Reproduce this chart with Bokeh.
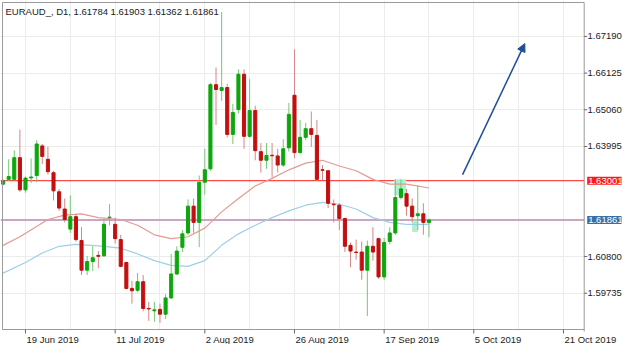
from bokeh.plotting import figure
from bokeh.models import Range1d, FixedTicker, PrintfTickFormatter, Label, Arrow, NormalHead, Span, ColumnDataSource
from bokeh.embed import file_html
from bokeh.resources import INLINE

# ---- data (bar index 0 = 19 Jun 2019, daily bars, last bar = 27 Sep 2019) ----
BAR = list(range(-4, 73))
OPEN = [1.62901, 1.63040, 1.63040, 1.63670, 1.62735, 1.63082, 1.63151, 1.64011, 1.63623, 1.63234,
        1.62679, 1.62179, 1.61596, 1.61957, 1.61263, 1.60403, 1.60653, 1.60833, 1.60819, 1.61930,
        1.61735, 1.61291, 1.60625, 1.59874, 1.59819, 1.60069, 1.59292, 1.59223, 1.59265, 1.59126,
        1.59598, 1.60292, 1.61069, 1.61485, 1.62263, 1.61791, 1.62957, 1.63345, 1.65788, 1.65622,
        1.65705, 1.64345, 1.65066, 1.66093, 1.64289, 1.65038, 1.63845, 1.63595, 1.63740, 1.63720,
        1.63456, 1.63956, 1.65483, 1.63817, 1.64261, 1.64511, 1.64317, 1.63317, 1.63290, 1.62318,
        1.62290, 1.61902, 1.61124, 1.60930, 1.60930, 1.60403, 1.61097, 1.61319, 1.60208, 1.61236,
        1.61485, 1.62512, 1.62623, 1.62263, 1.61985, 1.62040, 1.61784]
HIGH = [1.63040, 1.63623, 1.63881, 1.64483, 1.63123, 1.63651, 1.64178, 1.64067, 1.63984, 1.63290,
        1.62762, 1.62485, 1.62568, 1.62040, 1.61652, 1.60820, 1.61097, 1.60958, 1.61902, 1.62319,
        1.61930, 1.61430, 1.60653, 1.60097, 1.60319, 1.60264, 1.59486, 1.59486, 1.59431, 1.59709,
        1.60875, 1.61097, 1.61569, 1.62457, 1.62485, 1.63151, 1.63928, 1.65843, 1.66287, 1.67898,
        1.65816, 1.65233, 1.66232, 1.66232, 1.65955, 1.65177, 1.64095, 1.64095, 1.64095, 1.63928,
        1.64206, 1.65261, 1.66815, 1.64761, 1.64678, 1.65011, 1.64761, 1.63456, 1.63317, 1.62457,
        1.62346, 1.61930, 1.61208, 1.61291, 1.61235, 1.61263, 1.61652, 1.61347, 1.61347, 1.61652,
        1.63040, 1.63040, 1.62762, 1.62485, 1.62873, 1.62346, 1.61903]
LOW = [1.62870, 1.62998, 1.63012, 1.62679, 1.62651, 1.62929, 1.62957, 1.63484, 1.63179, 1.62429,
       1.62124, 1.61791, 1.61485, 1.61235, 1.60264, 1.60264, 1.60375, 1.60458, 1.60791, 1.61707,
       1.61180, 1.60486, 1.59846, 1.59430, 1.59763, 1.59209, 1.58931, 1.58904, 1.58876, 1.58987,
       1.59570, 1.60264, 1.60930, 1.61430, 1.61485, 1.61069, 1.62596, 1.63290, 1.64622, 1.65316,
       1.64261, 1.64067, 1.64955, 1.63928, 1.64261, 1.63595, 1.63234, 1.63345, 1.63095, 1.63234,
       1.63401, 1.63845, 1.63651, 1.63789, 1.64178, 1.63984, 1.62998, 1.63012, 1.62207, 1.61791,
       1.61569, 1.60930, 1.60486, 1.60708, 1.60125, 1.59070, 1.60680, 1.60153, 1.60125, 1.61152,
       1.61430, 1.62457, 1.61985, 1.61791, 1.61569, 1.61430, 1.61362]
CLOSE = [1.62998, 1.63123, 1.63670, 1.62735, 1.63076, 1.63109, 1.64067, 1.63706, 1.63262, 1.62707,
         1.62207, 1.61874, 1.61957, 1.61291, 1.60403, 1.60653, 1.60764, 1.60805, 1.61735, 1.61943,
         1.61319, 1.60514, 1.59874, 1.59805, 1.60069, 1.59292, 1.59278, 1.59251, 1.59126, 1.59598,
         1.60292, 1.60958, 1.61458, 1.62263, 1.61791, 1.62957, 1.63318, 1.65788, 1.65649, 1.65705,
         1.64345, 1.64983, 1.66093, 1.64289, 1.65038, 1.63873, 1.63595, 1.63734, 1.63725, 1.63456,
         1.63928, 1.64928, 1.63817, 1.64261, 1.64511, 1.64345, 1.63040, 1.63304, 1.62346, 1.62304,
         1.61902, 1.61097, 1.60958, 1.60916, 1.60403, 1.61097, 1.60930, 1.60208, 1.61208, 1.61485,
         1.62512, 1.62762, 1.62263, 1.61957, 1.62040, 1.61791, 1.61861]

MA_FAST_X = [-4, -1, 4, 7, 10, 13, 17, 20, 23, 26, 29, 32, 35, 38, 41, 44, 47, 50, 53, 56, 59, 62, 65, 68, 72]
MA_FAST = [1.61124, 1.61374, 1.61874, 1.62003, 1.62040, 1.61930, 1.61874, 1.61708, 1.61430, 1.61319,
           1.61374, 1.61624, 1.62096, 1.62485, 1.62846, 1.63068, 1.63317, 1.63512, 1.63595, 1.63429,
           1.63290, 1.63040, 1.62901, 1.62901, 1.62790]
MA_SLOW_X = [-4, 0, 3, 6, 9, 13, 17, 20, 23, 26, 29, 32, 35, 38, 41, 44, 47, 50, 53, 56, 59, 62, 65, 68, 72]
MA_SLOW = [1.60319, 1.60625, 1.60902, 1.61097, 1.61152, 1.61111, 1.61041, 1.60875, 1.60680, 1.60541,
           1.60514, 1.60680, 1.61124, 1.61458, 1.61708, 1.61930, 1.62124, 1.62290, 1.62374, 1.62318,
           1.62179, 1.61930, 1.61791, 1.61735, 1.61735]

PRICE_TICKS = [1.59735, 1.60800, 1.63995, 1.65060, 1.66125, 1.67190]
DATE_TICKS = [0, 16, 32, 48, 64, 80, 96]
DATE_LABELS = ["19 Jun 2019", "11 Jul 2019", "2 Aug 2019", "26 Aug 2019",
               "17 Sep 2019", "5 Oct 2019", "21 Oct 2019"]
GRID_X = [0, 8, 16, 24, 32, 40, 48, 56, 64, 72, 80, 88, 96]

RESIST = 1.63001
LAST = 1.61861
TITLE = "EURAUD_, D1, 1.61784 1.61903 1.61362 1.61861"
ARROW_FROM = (78.0, 1.63179)
ARROW_TO = (89.1, 1.66982)
HL_LEFT = [65.8, 69.0]
HL_RIGHT = [67.9, 70.0]
HL_TOP = [1.63040, 1.61846]
HL_BOTTOM = [1.62568, 1.61513]

# ---- styling / geometry ----
BULL, BEAR = "#0da60d", "#c20f0f"
BULL_W, BEAR_W = "#74c874", "#d78585"
GRID, BORDER = "#ececec", "#9a9a9a"
TXT = "#222222"
FONT = "Liberation Sans"
FS = "9.5px"

W, H = 624, 344
FRAME_R = 616                   # canvas x where the frame ends (price-axis panel is ~8px)
BOX_L, BOX_R = 2, 579           # canvas x of left border / price-scale border
BOX_T, BOX_B = 2, 329           # canvas y of top / bottom border
XL, XB = -4.1, 99.7             # bar window between the borders
YB, YT = 1.58681, 1.68175       # price window between the borders
PXB = (BOX_R - BOX_L) / (XB - XL)
PY = (BOX_B - BOX_T) / (YT - YB)
x_range = Range1d(XL - BOX_L / PXB, XB + (FRAME_R - BOX_R) / PXB)
y_range = Range1d(YB - (H - BOX_B) / PY, YT + BOX_T / PY)

p = figure(width=W, height=H, x_range=x_range, y_range=y_range,
           output_backend="svg", toolbar_location=None, y_axis_location="right", x_axis_location=None,
           min_border_left=0, min_border_right=0, min_border_top=0, min_border_bottom=0)
p.background_fill_color = "white"
p.border_fill_color = "white"
p.outline_line_color = None

# price axis (labels pulled back over the price-scale area)
p.yaxis.ticker = FixedTicker(ticks=PRICE_TICKS)
p.yaxis.formatter = PrintfTickFormatter(format="%.5f")
p.yaxis.major_label_text_font = FONT
p.yaxis.major_label_text_font_size = FS
p.yaxis.major_label_text_color = TXT
p.yaxis.major_tick_out = 0
p.yaxis.major_tick_in = 0
p.yaxis.minor_tick_out = 0
p.yaxis.minor_tick_in = 0
p.yaxis.major_label_standoff = -34
p.yaxis.axis_line_color = None
p.yaxis.major_tick_line_color = None

p.xgrid.ticker = FixedTicker(ticks=GRID_X)
p.xgrid.grid_line_color = GRID
p.ygrid.grid_line_color = GRID

# horizontal levels (under the candles)
p.add_layout(Span(location=RESIST, dimension="width", line_color="#ff1a1a", line_width=1, level="underlay"))
p.add_layout(Span(location=LAST, dimension="width", line_color="#cba6c4", line_width=2, level="underlay"))

# highlight boxes
p.quad(left=HL_LEFT, right=HL_RIGHT, top=HL_TOP, bottom=HL_BOTTOM, fill_color="#aef0cf", line_color=None)

# moving averages
p.line(MA_SLOW_X, MA_SLOW, line_color="#9fcfe6", line_width=1.2)
p.line(MA_FAST_X, MA_FAST, line_color="#e49a93", line_width=1.2)

# candles
up = [c >= o for o, c in zip(OPEN, CLOSE)]
src = ColumnDataSource(dict(
    x=BAR, high=HIGH, low=LOW,
    top=[max(o, c) for o, c in zip(OPEN, CLOSE)],
    bottom=[min(o, c) for o, c in zip(OPEN, CLOSE)],
    body=[BULL if u else BEAR for u in up],
    wick=[BULL_W if u else BEAR_W for u in up],
))
p.segment(x0="x", y0="low", x1="x", y1="high", line_color="wick", line_width=1, source=src)
p.vbar(x="x", width=0.55, top="top", bottom="bottom", fill_color="body", line_color="body",
       line_width=1, source=src)

# scale areas (right of and below the chart box): blank them
p.quad(left=[XB], right=[x_range.end], top=[y_range.end], bottom=[y_range.start], fill_color="white", line_color=None)
p.quad(left=[x_range.start], right=[x_range.end], top=[YB], bottom=[y_range.start], fill_color="white", line_color=None)

# chart box borders
p.segment(x0=[XL, XL, XL, XB], y0=[YT, YB, YB, YB - 2 / PY], x1=[XB, XB, XL, XB], y1=[YT, YB, YT, YT],
          line_color=BORDER, line_width=1)
# price tick dashes and date tick marks
p.segment(x0=[XB] * len(PRICE_TICKS), y0=PRICE_TICKS, x1=[XB + 3 / PXB] * len(PRICE_TICKS),
          y1=PRICE_TICKS, line_color="#666666", line_width=1)
p.segment(x0=DATE_TICKS, y0=[YB] * len(DATE_TICKS), x1=DATE_TICKS, y1=[YB - 4 / PY] * len(DATE_TICKS),
          line_color="#666666", line_width=1)

# arrow
p.add_layout(Arrow(end=NormalHead(size=8, fill_color="#1d4f9a", line_color="#1d4f9a"),
                   x_start=ARROW_FROM[0], y_start=ARROW_FROM[1],
                   x_end=ARROW_TO[0], y_end=ARROW_TO[1],
                   line_color="#1d4f9a", line_width=1.5))

# title
p.add_layout(Label(x=XL, y=YT, x_offset=3, y_offset=-3, text=TITLE,
                   text_font=FONT, text_font_size=FS, text_color="#1a1a1a",
                   text_baseline="top", text_align="left"))

# date labels, starting at their tick
for t, lab in zip(DATE_TICKS, DATE_LABELS):
    p.add_layout(Label(x=t, y=YB, x_offset=1, y_offset=-4, text=lab,
                       text_font=FONT, text_font_size=FS, text_color=TXT,
                       text_baseline="top", text_align="left"))

# price boxes
for lvl, col in ((RESIST, "#ff1a1a"), (LAST, "#3b6fa3")):
    p.add_layout(Label(x=XB, y=lvl, x_offset=3, text="%.5f" % lvl,
                       text_font=FONT, text_font_size=FS, text_color="white",
                       text_baseline="middle", text_align="left", padding=1,
                       background_fill_color=col))

open("out.html", "w").write(file_html(p, INLINE))
